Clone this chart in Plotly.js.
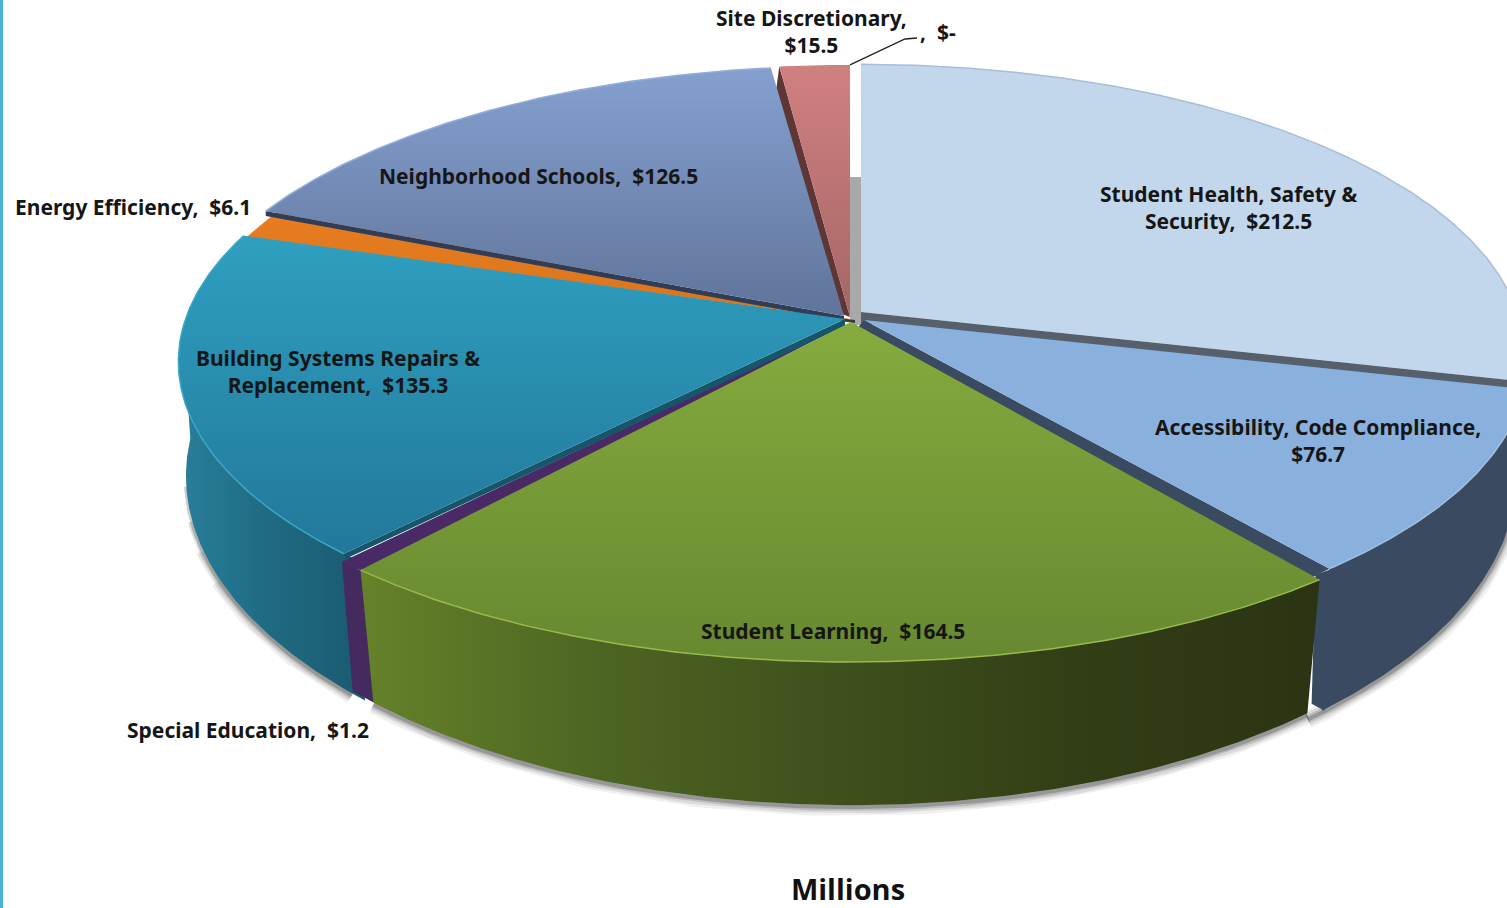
<!DOCTYPE html>
<html>
<head>
<meta charset="utf-8">
<script src="https://cdn.plot.ly/plotly-3.0.1.min.js"></script>
<style>html,body{margin:0;padding:0;background:#fff;overflow:hidden}#chart{width:1507px;height:908px}</style>
</head>
<body>
<div id="chart"></div>
<script>
// Capital programme allocation, in millions of dollars
const categories = ["Student Health, Safety &<br>Security", "Accessibility, Code Compliance", "Student Learning",
  "Special Education", "Building Systems Repairs &<br>Replacement", "Energy Efficiency", "Neighborhood Schools",
  "Site Discretionary", ""];
const values = [212.5, 76.7, 164.5, 1.2, 135.3, 6.1, 126.5, 15.5, 0];
const labelBreakBeforeValue = [false, true, false, false, false, false, false, true, false];

const total = values.reduce((a, b) => a + b, 0);
const bounds = [0];
values.forEach(v => bounds.push(bounds[bounds.length - 1] + v / total * 360));

// Tilted disc: a unit circle through a perspective map, top face and base
const TOP = {X: 855, Y: 320, A: 669.5, B: 289.5, k: 0.1486};
const BASE = {X: 855, Y: 427, A: 664.6, B: 322.8, k: 0.1486};
const rad = d => d * Math.PI / 180;
function project(face, deg, off, r) {
  r = r === undefined ? 1 : r;
  const u = Math.sin(rad(deg)), v = -Math.cos(rad(deg)), d = 1 - face.k * v * r;
  return [face.X + off[0] + face.A * r * u / d, face.Y + off[1] + face.B * r * v / d];
}
function arc(face, a, b, off, r) {
  const n = Math.max(2, Math.ceil(Math.abs(b - a) / 0.5)), pts = [];
  for (let i = 0; i <= n; i++) pts.push(project(face, a + (b - a) * i / n, off, r));
  return pts;
}

// Per-slice appearance; indices follow the category order
const looks = [
  {off: [6, -8], r: 0.98, trim: [0, 0], fill: ["#c3d7ec", "#c3d7ec"], rim: "#a9bdd6"},
  {off: [9, 0], r: 0.98, trim: [0, 0], fill: ["#8ab0de", "#8ab0de"], rim: "#9fbfe4", wall: "#3a4a60",
    baseA: 649, baseOff: [5, 0]},
  {off: [-4, 2], r: 1, trim: [0.8, 0.7], fill: ["#86ab3e", "#678830"], rim: "#98b94c",
    wall: [[0, "#66822a"], [0.25, "#4d6522"], [0.5, "#3e501c"], [0.75, "#323e16"], [1, "#2b3412"]],
    baseA: 652, baseOff: [-4, -1]},
  {off: [-5, 2], r: 1, trim: [-1.3, -0.7], fill: ["#4a2a66", "#4a2a66"], wall: "#452a60", baseOff: [2, -3]},
  {off: [-10, -1], r: 0.985, trim: [0.9, 0], fill: ["#2f9fc0", "#22789a"], rim: "#3ba6c6",
    wall: [[0, "#2a7f9a"], [0.45, "#1f6c84"], [1, "#1a5a70"]], baseOff: [3, 0]},
  {off: [0, 0], r: 0.995, trim: [-0.4, -3], fill: ["#e87d20", "#d9741c"]},
  {off: [-11, -4], r: 0.99, trim: [2, -0.3], fill: ["#85a0d0", "#60749a"], rim: "#94add8"},
  {off: [-5, -3], r: 1, trim: [0.6, 0], fill: ["#d18080", "#a56666"]}
];

const traces = [];
function polygon(pts, fill, extent) {
  const t = {type: "scatter", mode: "lines", x: pts.map(p => p[0]), y: pts.map(p => p[1]),
    fill: "toself", line: {width: 0}, hoverinfo: "skip", showlegend: false};
  if (typeof fill === "string") t.fillcolor = fill;
  else t.fillgradient = Object.assign({colorscale: fill.scale, type: fill.type}, extent || {});
  traces.push(t);
}
function stroke(pts, color, width) {
  traces.push({type: "scatter", mode: "lines", x: pts.map(p => p[0]), y: pts.map(p => p[1]),
    line: {color: color, width: width}, hoverinfo: "skip", showlegend: false});
}
const span = i => [bounds[i] + looks[i].trim[0], bounds[i + 1] - looks[i].trim[1]];
const apex = i => [TOP.X + looks[i].off[0], TOP.Y + looks[i].off[1]];
const baseFace = i => Object.assign({}, BASE, looks[i].baseA ? {A: looks[i].baseA} : {});
const baseOff = i => looks[i].baseOff || looks[i].off;

// Soft contact shadow along the front of the base, tapering out on the left
[[18, 0.06, 244], [13, 0.09, 249], [8, 0.13, 254], [4, 0.2, 260]].forEach(([w, a, leftEnd]) => {
  [[4, span(4)[0], leftEnd], [2, span(2)[0], span(2)[1]], [1, span(1)[0], span(1)[1] + 1.5]].forEach(([i, from, to]) => {
    const o = baseOff(i);
    stroke(arc(baseFace(i), from, to, [o[0], o[1] + 2]), "rgba(0,0,0," + a + ")", w);
  });
});

// Grey core showing where the first slice is pulled away
polygon([[850, 177], [861, 177], [862, 325], [850, 325]], "#a9a9a9");

// Outer walls of the slices facing the viewer
function wall(i, from, to) {
  const look = looks[i], top = arc(TOP, from, to, look.off, look.r), base = arc(baseFace(i), to, from, baseOff(i));
  const pts = top.concat(base);
  if (typeof look.wall === "string") polygon(pts, look.wall);
  else {
    const xs = pts.map(p => p[0]);
    polygon(pts, {type: "horizontal", scale: look.wall}, {start: Math.min(...xs), stop: Math.max(...xs)});
  }
}
// Cut face seen along one radial edge: top edge plus a shifted copy of it
function cutFace(i, deg, rimVec, apexVec, color) {
  const a = apex(i), r = project(TOP, deg, looks[i].off, looks[i].r);
  polygon([a, r, [r[0] + rimVec[0], r[1] + rimVec[1]], [a[0] + apexVec[0], a[1] + apexVec[1]]], color);
}
function topFace(i) {
  const look = looks[i], [a, b] = span(i), pts = [apex(i)].concat(arc(TOP, a, b, look.off, look.r));
  const ys = pts.map(p => p[1]);
  if (look.fill[0] === look.fill[1]) polygon(pts, look.fill[0]);
  else polygon(pts, {type: "vertical", scale: [[0, look.fill[0]], [1, look.fill[1]]]},
    {start: Math.min(...ys), stop: Math.max(...ys)});
  if (look.rim) stroke(arc(TOP, a, b, look.off, look.r), look.rim, 1.5);
}

wall(4, span(4)[0] - 1.5, 268);
wall(1, span(1)[0], span(1)[1]);
// Right-hand cut of the accessibility slice, carried down to its base
(function () {
  const t = project(TOP, bounds[2], looks[1].off, looks[1].r), b = project(baseFace(1), bounds[2], baseOff(1));
  polygon([[t[0] + 3, t[1]], [b[0] + 3, b[1]], [b[0] - 10, b[1] - 7], [t[0] - 14, t[1] + 6]], "#3a4a60");
})();
wall(3, span(3)[0], span(3)[1]);
wall(2, span(2)[0], span(2)[1]);

topFace(0);
cutFace(0, bounds[1], [0, 11], [0, 11], "#56606c");
cutFace(7, bounds[7] + looks[7].trim[0], [-3, 22], [-8, -3], "#5f3636");
topFace(7);
cutFace(5, bounds[5] + looks[5].trim[0], [0, 3], [0, 3], "#3c3a34");
topFace(5);
cutFace(6, bounds[6] + looks[6].trim[0], [0, 5], [0, 5], "#2f3d58");
topFace(6);
topFace(3);
cutFace(4, bounds[4] + looks[4].trim[0], [2, 5], [0, 7], "#17566a");
topFace(4);
cutFace(1, bounds[2], [-16, 8], [-8, 10], "#3a4a60");
topFace(1);
topFace(2);

// Leader line of the empty slice
stroke([project(TOP, 360, looks[7].off), [905, 39], [917, 38]], "#222222", 1.3);

const labelCentres = [[1228, 207], [1318, 440], [833, 631], [248, 730], [338, 371], [133, 207], [538, 176], [811, 31], [938, 32]];
const labelFont = {family: "'Noto Sans', sans-serif", size: 21, color: "#161616", weight: 700};
const annotations = categories.map((name, i) => {
  const money = values[i] === 0 ? "$-" : "$" + values[i].toFixed(1);
  const sep = labelBreakBeforeValue[i] ? ",<br>" : ",\u00a0 ";
  return {x: labelCentres[i][0], y: labelCentres[i][1], xref: "x", yref: "y", showarrow: false,
    xanchor: "center", yanchor: "middle", text: name + sep + money, font: labelFont, align: "center"};
});

const layout = {
  width: 1507, height: 908, margin: {l: 0, r: 0, t: 0, b: 0}, showlegend: false,
  paper_bgcolor: "#ffffff", plot_bgcolor: "#ffffff",
  title: {text: "Millions", x: 848 / 1507, y: 1 - 890 / 908, xref: "paper", yref: "paper", xanchor: "center", yanchor: "middle",
    font: {family: "'Open Sans', sans-serif", size: 29, color: "#111111", weight: 700}},
  xaxis: {range: [0, 1507], visible: false, fixedrange: true},
  yaxis: {range: [908, 0], visible: false, fixedrange: true},
  annotations: annotations,
  shapes: [{type: "rect", xref: "x", yref: "y", x0: 0, x1: 3, y0: 0, y1: 908, fillcolor: "#4ab3d4", line: {width: 0}}]
};
Plotly.newPlot("chart", traces, layout, {displayModeBar: false, staticPlot: true});
</script>
</body>
</html>
